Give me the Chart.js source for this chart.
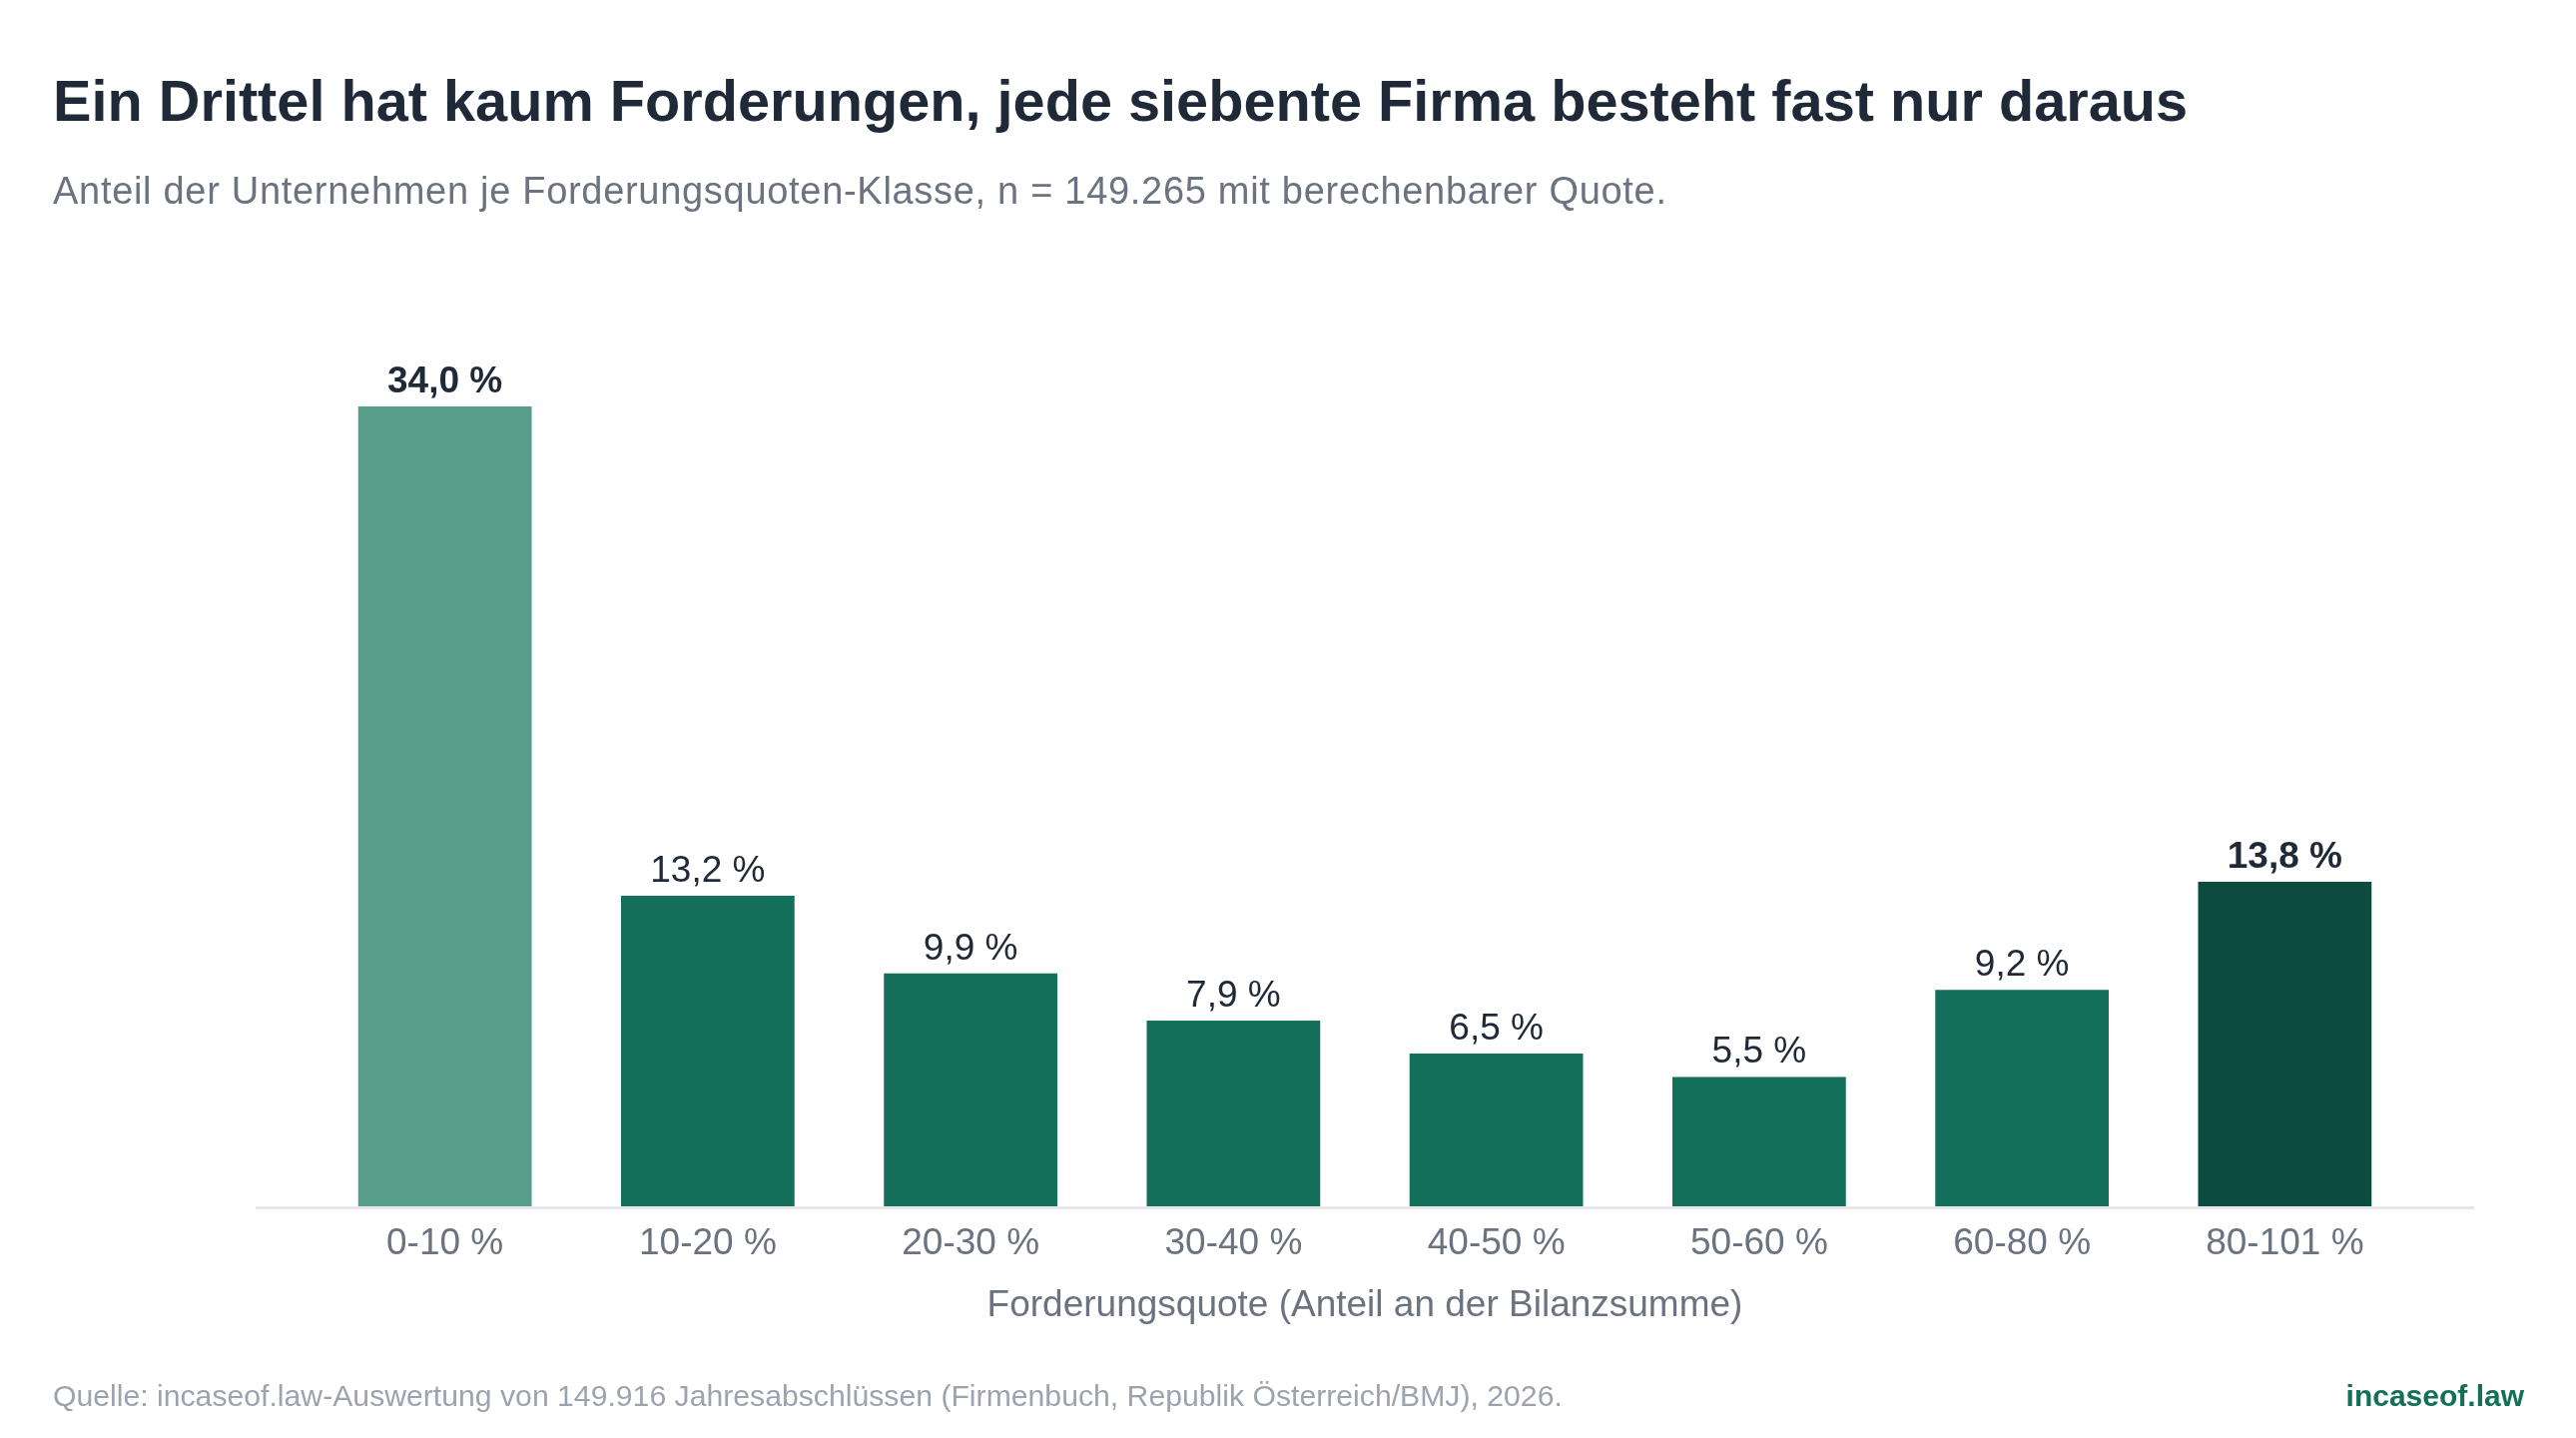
<!DOCTYPE html>
<html lang="de">
<head>
<meta charset="utf-8">
<title>Forderungsquote</title>
<script src="https://cdn.jsdelivr.net/npm/chart.js@4.4.1/dist/chart.umd.min.js"></script>
<style>
    html, body { margin: 0; padding: 0; background: #ffffff; }
    body { width: 2580px; height: 1440px; position: relative; overflow: hidden; font-family: "Liberation Sans", Arial, Helvetica, sans-serif; }
    #wrap { position: absolute; left: 0; top: 0; width: 2580px; height: 1440px; }
    .txt { position: absolute; margin: 0; line-height: 1; white-space: nowrap; }
    #titel { left: 53px; top: 73px; font-size: 57.7px; font-weight: bold; color: #1f2937; }
    #untertitel { left: 53px; top: 172px; font-size: 38px; letter-spacing: 0.7px; color: #6b7280; }
    #quelle { left: 53px; top: 1383px; font-size: 30.2px; color: #9ca3af; }
    #marke { right: 52px; top: 1383px; font-size: 30px; font-weight: bold; color: #136f56; }
</style>
</head>
<body>
<div id="wrap"><canvas id="chart"></canvas></div>
<h1 class="txt" id="titel">Ein Drittel hat kaum Forderungen, jede siebente Firma besteht fast nur daraus</h1>
<p class="txt" id="untertitel">Anteil der Unternehmen je Forderungsquoten-Klasse, n = 149.265 mit berechenbarer Quote.</p>
<p class="txt" id="quelle">Quelle: incaseof.law-Auswertung von 149.916 Jahresabschlüssen (Firmenbuch, Republik Österreich/BMJ), 2026.</p>
<p class="txt" id="marke">incaseof.law</p>

<script>
    // Daten
    const klassen = ['0-10 %', '10-20 %', '20-30 %', '30-40 %', '40-50 %', '50-60 %', '60-80 %', '80-101 %'];
    const anteile = [34.0, 13.2, 9.9, 7.9, 6.5, 5.5, 9.2, 13.8];
    const hervorgehoben = [0, 7]; // Klassen mit fetter Beschriftung

    const farben = ['#579e8a', '#136f5a', '#136f5a', '#136f5a', '#136f5a', '#136f5a', '#136f5a', '#0c4b40'];
    const SCHRIFT = '"Liberation Sans", Arial, Helvetica, sans-serif';

    function formatProzent(v) {
        return v.toFixed(1).replace('.', ',') + ' %';
    }

    // Grundlinie etwas breiter als die Kategorien
    const grundlinie = {
        id: 'grundlinie',
        beforeDatasetsDraw(chart) {
            const { ctx, chartArea, scales } = chart;
            const x = scales.x;
            const breite = x.getPixelForValue(1) - x.getPixelForValue(0);
            const ueberstand = breite * 0.22;
            ctx.save();
            ctx.strokeStyle = '#e5e7eb';
            ctx.lineWidth = 3;
            ctx.beginPath();
            ctx.moveTo(chartArea.left - ueberstand, chartArea.bottom + 1.5);
            ctx.lineTo(chartArea.right + ueberstand, chartArea.bottom + 1.5);
            ctx.stroke();
            ctx.restore();
        }
    };

    // Werte über den Balken
    const wertBeschriftung = {
        id: 'wertBeschriftung',
        afterDatasetsDraw(chart) {
            const { ctx } = chart;
            const meta = chart.getDatasetMeta(0);
            ctx.save();
            ctx.textAlign = 'center';
            ctx.textBaseline = 'alphabetic';
            ctx.fillStyle = '#1f2937';
            meta.data.forEach((bar, i) => {
                const fett = hervorgehoben.includes(i);
                ctx.font = (fett ? 'bold ' : '') + '37px ' + SCHRIFT;
                ctx.fillText(formatProzent(anteile[i]), bar.x, bar.y - 14);
            });
            ctx.restore();
        }
    };

    const ctx = document.getElementById('chart').getContext('2d');
    new Chart(ctx, {
        type: 'bar',
        data: {
            labels: klassen,
            datasets: [{
                label: 'Anteil',
                data: anteile,
                backgroundColor: farben,
                borderWidth: 0,
                categoryPercentage: 1.0,
                barPercentage: 0.66
            }]
        },
        options: {
            responsive: true,
            maintainAspectRatio: false,
            animation: false,
            devicePixelRatio: 1,
            layout: {
                padding: { left: 314, right: 160, top: 360, bottom: 102 }
            },
            plugins: {
                legend: { display: false },
                tooltip: { enabled: false }
            },
            scales: {
                x: {
                    grid: { display: false, drawTicks: false },
                    border: { display: false },
                    ticks: {
                        color: '#6b7280',
                        padding: 16,
                        font: { family: SCHRIFT, size: 37 }
                    },
                    title: {
                        display: true,
                        text: 'Forderungsquote (Anteil an der Bilanzsumme)',
                        color: '#6b7280',
                        padding: { top: 0, bottom: 8 },
                        font: { family: SCHRIFT, size: 37 }
                    },
                    afterFit(axis) { axis.height = 130; }
                },
                y: {
                    display: false,
                    min: 0,
                    max: 36
                }
            }
        },
        plugins: [grundlinie, wertBeschriftung]
    });
</script>
</body>
</html>
